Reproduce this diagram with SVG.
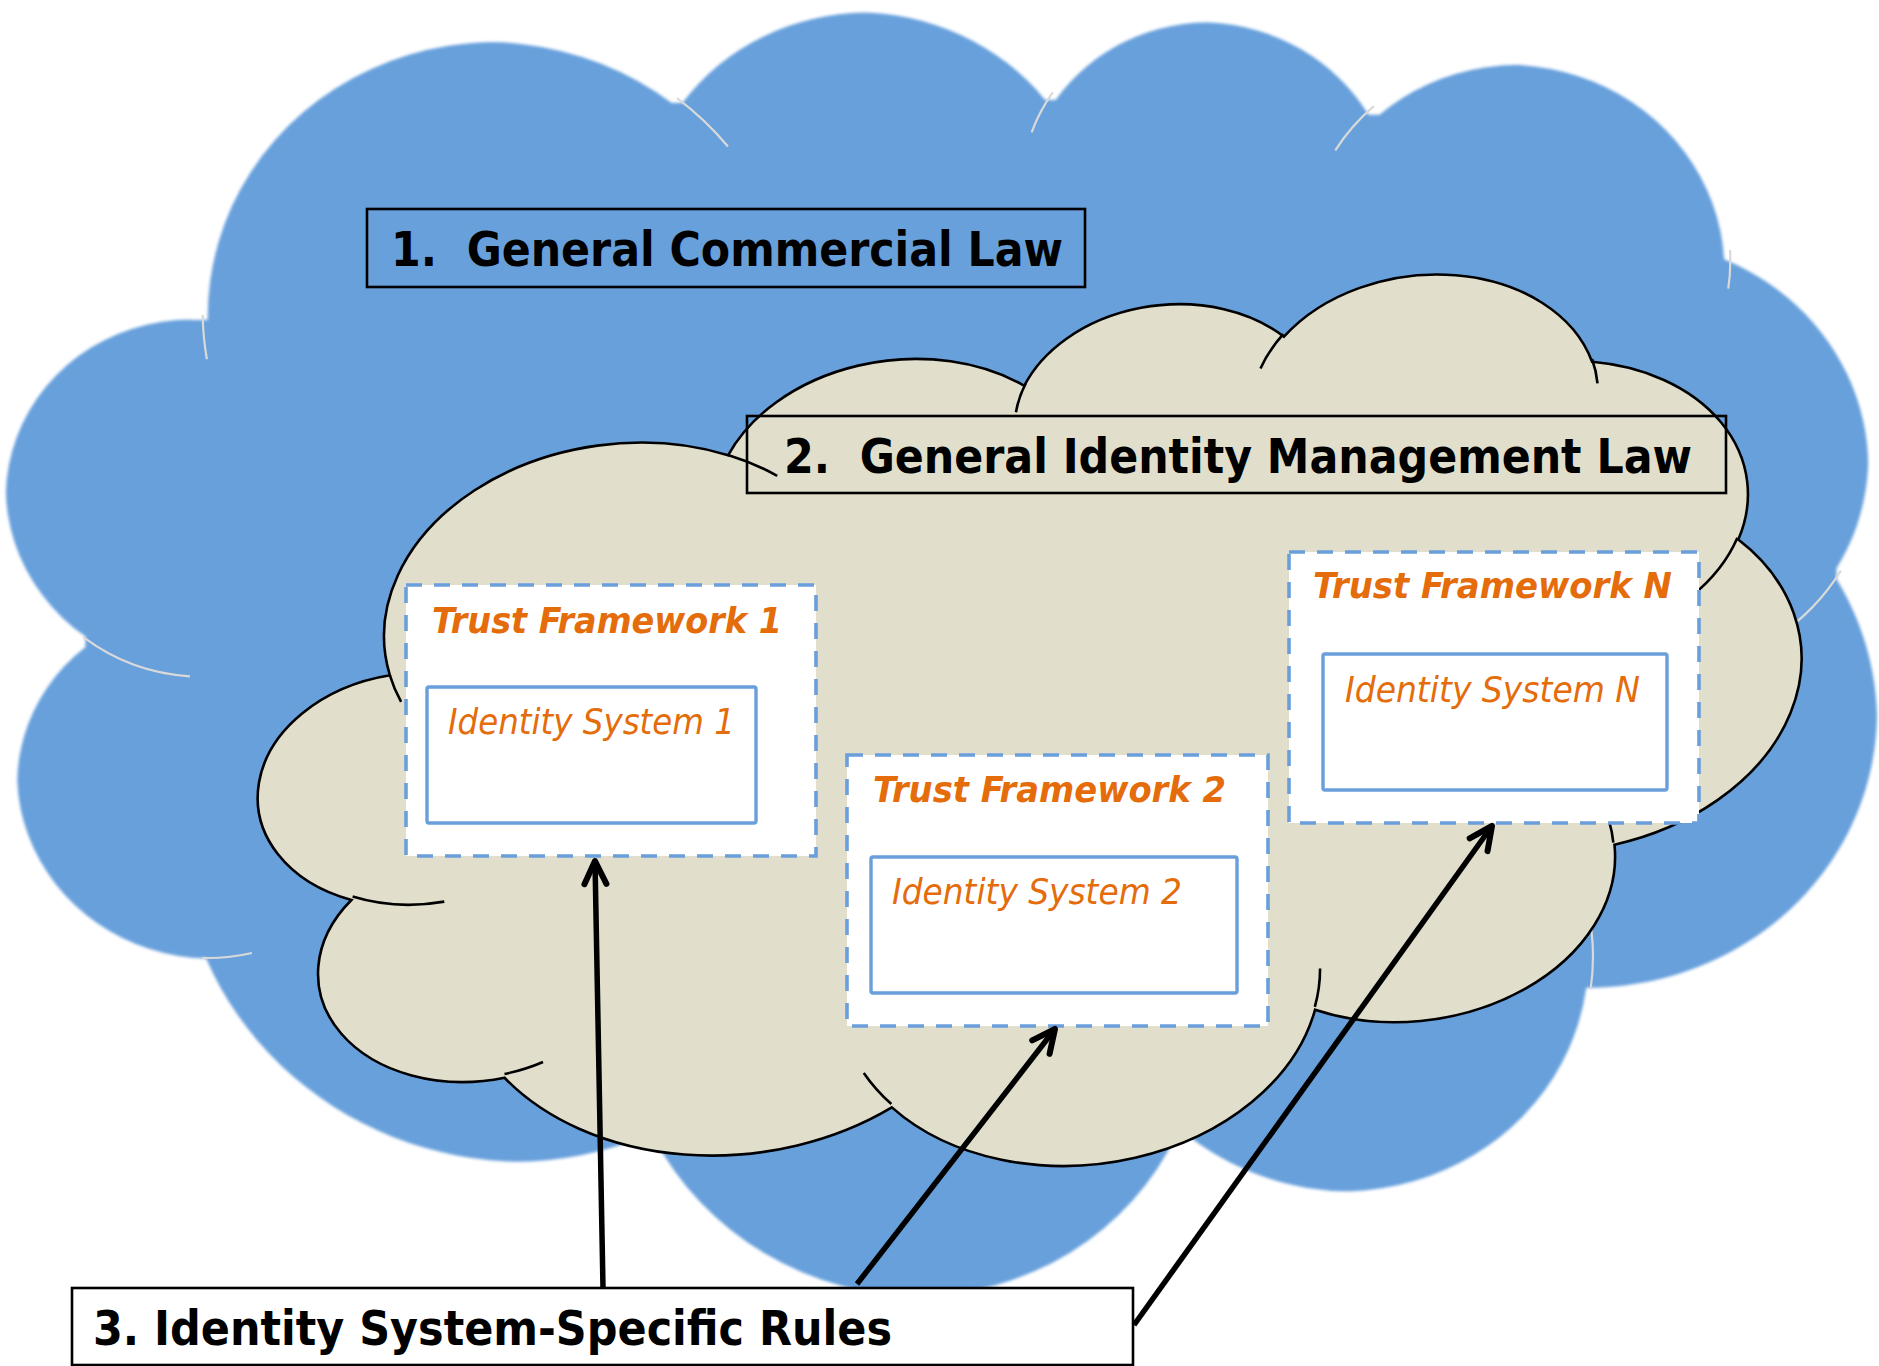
<svg xmlns="http://www.w3.org/2000/svg" width="1879" height="1366" viewBox="0 0 1879 1366">
<style>
  .lawbox { fill: none; stroke: #000; stroke-width: 2.6; }
  .lawtxt { font-family: "DejaVu Sans Condensed", "DejaVu Sans", sans-serif; font-weight: bold; font-size: 48px; fill: #000; }
  .tf { fill: #fff; stroke: #6a9fdc; stroke-width: 3.6; stroke-dasharray: 16 12; }
  .is { fill: #fff; stroke: #6a9fdc; stroke-width: 3.4; }
  .tftxt { font-family: "DejaVu Sans Condensed", "DejaVu Sans", sans-serif; font-weight: bold; font-style: italic; font-size: 36px; fill: #e46c0a; }
  .istxt { font-family: "DejaVu Sans Condensed", "DejaVu Sans", sans-serif; font-style: italic; font-size: 36px; fill: #e46c0a; }
  .conn { fill: none; stroke: #000; stroke-width: 5.5; marker-end: url(#arrow); }
  .nss { vector-effect: non-scaling-stroke; }
</style>
<defs>
  <path id="cloudOuter" class="nss" d="M 3900 14370 A 6753 9190 0 0 1 14004 5201 A 5333 7267 0 0 1 22456 3430 A 4365 5945 0 0 1 29831 2475 A 4857 6595 0 0 1 38317 5570 A 5333 7273 0 0 1 41817 15454 A 6775 9220 0 0 1 37405 30201 A 5785 7867 0 0 1 28556 36811 A 6752 9215 0 0 1 16481 39262 A 7720 10543 0 0 1 5807 35469 A 4360 5918 0 0 1 2116 25546 A 4345 5945 0 0 1 3900 14370 Z"/>
  <path id="cloudInner" class="nss" d="M 4693 26177 A 4345 5945 0 0 1 2160 25380 M 6928 34899 A 4360 5918 0 0 1 5819 35281 M 16478 39090 A 6752 9215 0 0 1 15810 37350 M 28827 34751 A 6752 9215 0 0 1 28560 36661 M 34129 22954 A 5785 7867 0 0 1 37380 30090 M 41798 15354 A 5333 7273 0 0 1 40349 18031 M 38324 5426 A 4857 6595 0 0 1 38400 6690 M 29078 3952 A 4857 6595 0 0 1 29820 2340 M 22141 4720 A 4365 5945 0 0 1 22500 3330 M 14000 5192 A 6753 9190 0 0 1 15301 6542 M 4127 15789 A 6753 9190 0 0 1 3900 14371"/>
  <filter id="soft" x="-5%" y="-5%" width="110%" height="110%">
    <feMorphology operator="erode" radius="5"/>
    <feGaussianBlur stdDeviation="1.6"/>
  </filter>
  <marker id="arrow" viewBox="-32 -16 40 32" markerWidth="40" markerHeight="32" refX="0" refY="0" orient="auto" markerUnits="userSpaceOnUse">
    <path d="M -23 -11 L 0 0 L -23 11" fill="none" stroke="#000" stroke-width="6" stroke-linecap="round" stroke-linejoin="round"/>
  </marker>
</defs>

<g id="cloud-commercial-law">
  <g filter="url(#soft)">
    <g transform="matrix(0.04333 0.005959 -0.003992 0.030199 91.1 -142.2)">
      <use href="#cloudOuter" fill="#68a0dc"/>
    </g>
  </g>
  <g transform="matrix(0.04333 0.005959 -0.003992 0.030199 91.1 -142.2)">
    <use href="#cloudInner" fill="none" stroke="#d9d9d9" stroke-width="2.2"/>
  </g>
</g>

<g id="cloud-identity-management-law">
  <g transform="matrix(0.0354986 -0.004134 0.002223 0.019449 219.5 411.9)">
    <use href="#cloudOuter" fill="#e1dfcc" stroke="#000" stroke-width="2.6"/>
    <use href="#cloudInner" fill="none" stroke="#000" stroke-width="2.6"/>
  </g>
</g>

<g id="law1">
  <rect class="lawbox" x="367" y="209" width="718" height="78"/>
  <text class="lawtxt" x="391" y="266" xml:space="preserve" textLength="672" lengthAdjust="spacingAndGlyphs">1.  General Commercial Law</text>
</g>

<g id="law2">
  <rect class="lawbox" x="747" y="416" width="979" height="77"/>
  <text class="lawtxt" x="784" y="473" xml:space="preserve" textLength="908" lengthAdjust="spacingAndGlyphs">2.  General Identity Management Law</text>
</g>

<g id="tf1">
  <rect class="tf" x="406" y="585" width="410" height="271"/>
  <text class="tftxt" x="432" y="633" textLength="350" lengthAdjust="spacingAndGlyphs">Trust Framework 1</text>
  <g id="is1">
    <rect class="is" x="427" y="687" width="329" height="136" rx="2"/>
    <text class="istxt" x="448" y="734" textLength="287" lengthAdjust="spacingAndGlyphs">Identity System 1</text>
  </g>
</g>

<g id="tf2">
  <rect class="tf" x="847" y="755" width="421" height="271"/>
  <text class="tftxt" x="873" y="802" textLength="353" lengthAdjust="spacingAndGlyphs">Trust Framework 2</text>
  <g id="is2">
    <rect class="is" x="871" y="857" width="366" height="136" rx="2"/>
    <text class="istxt" x="892" y="904" textLength="290" lengthAdjust="spacingAndGlyphs">Identity System 2</text>
  </g>
</g>

<g id="tfn">
  <rect class="tf" x="1289" y="552" width="410" height="271"/>
  <text class="tftxt" x="1313" y="598" textLength="359" lengthAdjust="spacingAndGlyphs">Trust Framework N</text>
  <g id="isn">
    <rect class="is" x="1323" y="654" width="344" height="136" rx="2"/>
    <text class="istxt" x="1345" y="702" textLength="295" lengthAdjust="spacingAndGlyphs">Identity System N</text>
  </g>
</g>

<g id="connectors">
  <path class="conn" d="M 603 1288 L 595 861"/>
  <path class="conn" d="M 857 1284 L 1055 1029"/>
  <path class="conn" d="M 1134 1325 L 1492 826"/>
</g>

<g id="rules3">
  <rect x="72" y="1288" width="1061" height="77" fill="#fff" stroke="#000" stroke-width="2.6"/>
  <text class="lawtxt" x="93" y="1345" textLength="799" lengthAdjust="spacingAndGlyphs">3. Identity System-Specific Rules</text>
</g>
</svg>
